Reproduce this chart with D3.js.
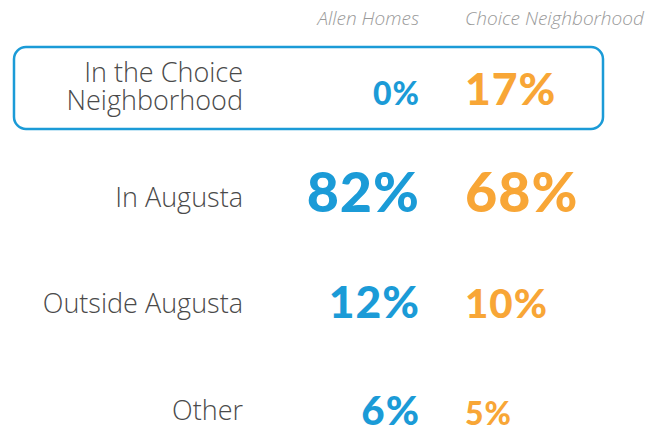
<!DOCTYPE html>
<html>
<head>
<meta charset="utf-8">
<script src="https://cdn.jsdelivr.net/npm/d3@7"></script>
<style>
  body { margin: 0; background: #fff; }
  svg { display: block; }
</style>
</head>
<body>
<div id="chart_area"></div>
<script>
// data
var categories = ["In the Choice\nNeighborhood", "In Augusta", "Outside Augusta", "Other"];
var seriesNames = ["Allen Homes", "Choice Neighborhood"];
var allenHomes = [0, 82, 12, 6];
var choiceNeighborhood = [17, 68, 10, 5];

var width = 648, height = 430;
var colors = ["#1b9bd7", "#f8a636"];

var svg = d3.select("#chart_area")
    .append("svg")
    .attr("width", width)
    .attr("height", height);

// rows: baseline of the values
var y = d3.scalePoint()
    .domain(categories)
    .range([105, 425]);

// columns: blue right-aligned, orange left-aligned
var x = d3.scaleOrdinal()
    .domain(seriesNames)
    .range([420, 465]);
var anchor = d3.scaleOrdinal()
    .domain(seriesNames)
    .range(["end", "start"]);
var color = d3.scaleOrdinal()
    .domain(seriesNames)
    .range(colors);

// text size grows with the value's rank inside its column (cap height in px)
var capByRank = d3.scaleLinear()
    .domain([0, 1, 2, 3])
    .range([23, 29, 32, 40]);

// highlight box around the first row
svg.append("rect")
    .attr("x", 14)
    .attr("y", 47)
    .attr("width", 589)
    .attr("height", 82)
    .attr("rx", 12)
    .attr("fill", "none")
    .attr("stroke", "#1b9bd7")
    .attr("stroke-width", 2.5);

// header
svg.selectAll(".header")
    .data(seriesNames)
    .enter()
    .append("text")
    .attr("class", "header")
    .attr("x", function (d) { return d === seriesNames[0] ? x(d) - 1 : x(d); })
    .attr("y", 25)
    .attr("text-anchor", function (d) { return anchor(d); })
    .attr("fill", "#9a9a9a")
    .style("font-family", "'Open Sans', sans-serif")
    .style("font-weight", 300)
    .style("font-style", "italic")
    .style("font-size", "19px")
    .text(function (d) { return d; });

// category labels
var labels = svg.selectAll(".label")
    .data(categories)
    .enter()
    .append("text")
    .attr("class", "label")
    .attr("text-anchor", "end")
    .attr("fill", "#4a4a4a")
    .style("font-family", "'Open Sans', sans-serif")
    .style("font-weight", 300)
    .style("font-size", "27px");

labels.each(function (d) {
    var lines = d.split("\n");
    var t = d3.select(this);
    var base = y(d) - 5 - (lines.length - 1) * 18;
    lines.forEach(function (line, i) {
        t.append("tspan")
            .attr("x", 243)
            .attr("y", base + i * 28)
            .text(line);
    });
});

// values
var series = [allenHomes, choiceNeighborhood];
series.forEach(function (values, s) {
    var name = seriesNames[s];
    var sorted = values.slice().sort(d3.ascending);
    svg.selectAll(".val" + s)
        .data(values)
        .enter()
        .append("text")
        .attr("class", "val" + s)
        .attr("x", x(name))
        .attr("y", function (d, i) { return y(categories[i]); })
        .attr("text-anchor", anchor(name))
        .attr("fill", color(name))
        .style("font-family", "Lato, sans-serif")
        .style("font-weight", 900)
        .style("letter-spacing", "1px")
        .style("font-size", function (d) { return (capByRank(sorted.indexOf(d)) / 0.72) + "px"; })
        .text(function (d) { return d + "%"; });
});
</script>
</body>
</html>
